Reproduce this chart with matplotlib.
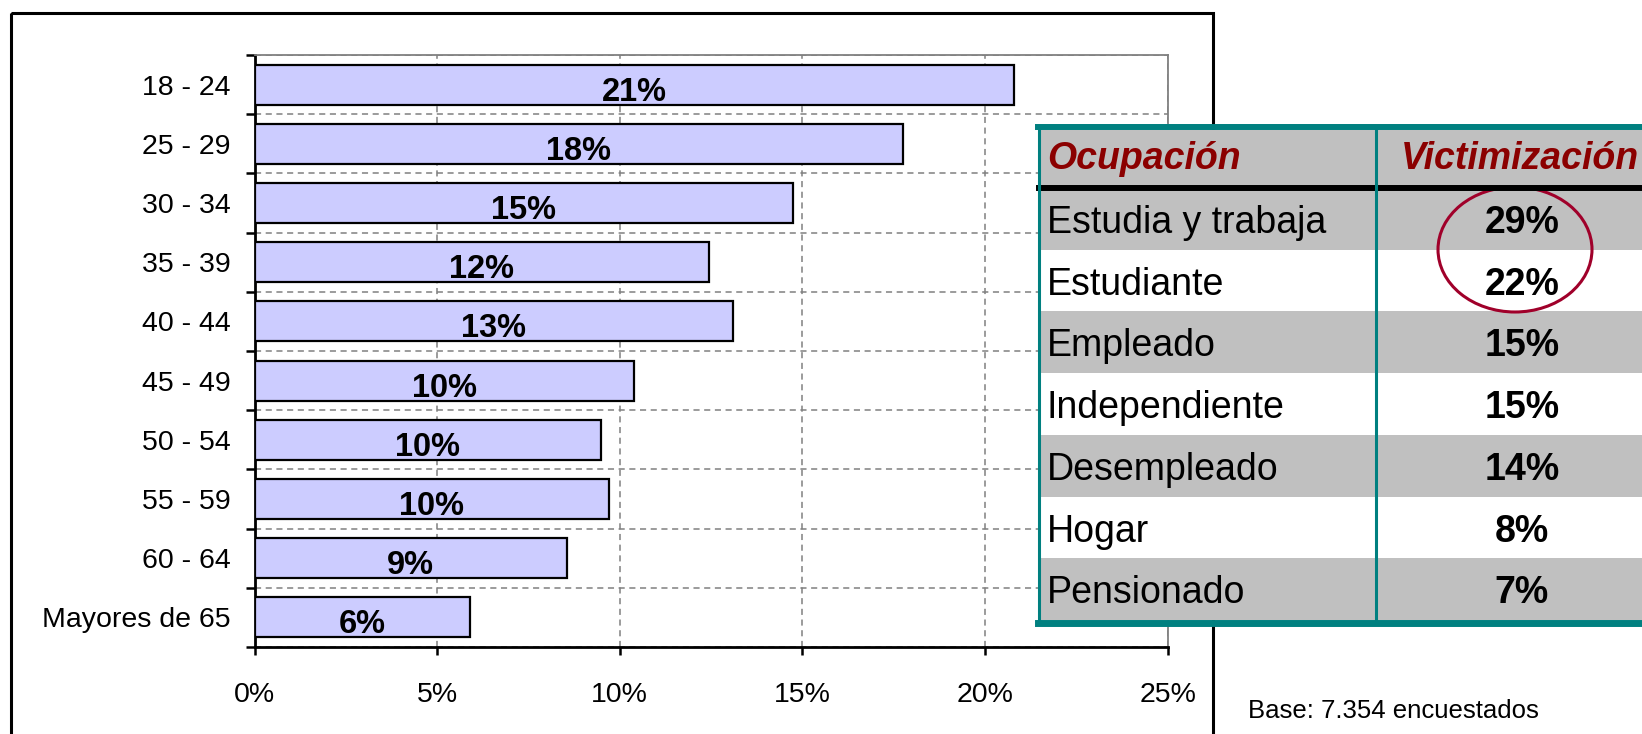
import numpy as np
import matplotlib.pyplot as plt
from matplotlib.patches import Rectangle, Ellipse

# =========================================================
# DATA
# =========================================================
grupos = ["18 - 24", "25 - 29", "30 - 34", "35 - 39", "40 - 44",
          "45 - 49", "50 - 54", "55 - 59", "60 - 64", "Mayores de 65"]
valores = [20.8, 17.75, 14.75, 12.45, 13.1, 10.4, 9.5, 9.7, 8.55, 5.9]
x_ticks = [0, 5, 10, 15, 20, 25]

ocupaciones = ["Estudia y trabaja", "Estudiante", "Empleado", "Independiente",
               "Desempleado", "Hogar", "Pensionado"]
victimizacion = [29, 22, 15, 15, 14, 8, 7]

# =========================================================
# FIGURE
# =========================================================
W, H = 1642, 734
plt.rcParams['font.family'] = ['Liberation Sans', 'DejaVu Sans']

fig = plt.figure(figsize=(W / 100, H / 100), dpi=100)
ax = fig.add_axes([254.5 / W, 1 - 647 / H, (1167.6 - 254.5) / W, (647 - 55) / H])

y = np.arange(len(grupos))
ax.barh(y, valores, height=0.675, color="#CCCCFF", edgecolor="black",
        linewidth=1.6, zorder=3)
for yi, v in zip(y, valores):
    ax.text(v / 2, yi + 0.27, f"{v:.0f}%", ha="center", va="baseline",
            fontsize=23.5, fontweight="bold", zorder=4)

ax.set_xlim(0, 25)
ax.set_ylim(len(grupos) - 0.5, -0.5)
ax.set_xticks(x_ticks)
ax.set_xticklabels([f"{t}%" for t in x_ticks])
ax.set_yticks(y)
ax.set_yticklabels(grupos)
ax.set_yticks(np.arange(len(grupos) + 1) - 0.5, minor=True)
ax.tick_params(axis="y", which="major", length=0, pad=17, labelsize=20.5)
ax.tick_params(axis="y", which="minor", length=6.5, width=1.8, direction="out")
ax.tick_params(axis="x", length=6, width=1.8, pad=19, labelsize=20.5)

ax.set_axisbelow(True)
ax.grid(axis="x", which="major", linestyle=(0, (4, 3)), color="#808080", linewidth=1.1)
ax.grid(axis="y", which="minor", linestyle=(0, (4, 3)), color="#808080", linewidth=1.1)

for s in ["left", "bottom"]:
    ax.spines[s].set_color("black")
    ax.spines[s].set_linewidth(2)
for s in ["top", "right"]:
    ax.spines[s].set_color("#808080")
    ax.spines[s].set_linewidth(1.3)

# =========================================================
# OVERLAY (frame + table), pixel coordinates
# =========================================================
ov = fig.add_axes([0, 0, 1, 1])
ov.set_xlim(0, W)
ov.set_ylim(H, 0)
ov.axis("off")

ov.add_patch(Rectangle((10.5, 12.5), 1202, 800, fill=False,
                       edgecolor="black", linewidth=2.2))

tab_l, tab_r, div_x = 1038.5, 1720, 1376
head_top, head_bot, row_h = 130, 188, 61.7
gris = "#C0C0C0"
teal = "#008080"
rojo = "#8B0000"

ov.add_patch(Rectangle((tab_l, head_top), tab_r - tab_l, head_bot - head_top,
                       facecolor=gris, edgecolor="none"))
for i, (occ, val) in enumerate(zip(ocupaciones, victimizacion)):
    top = head_bot + i * row_h
    ov.add_patch(Rectangle((tab_l, top), tab_r - tab_l, row_h,
                           facecolor=gris if i % 2 == 0 else "white", edgecolor="none"))
    ov.text(1047, top + 45, occ, ha="left", va="baseline", fontsize=27)
    ov.text(1522, top + 45, f"{val}%", ha="center", va="baseline",
            fontsize=27, fontweight="bold")

tab_bot = head_bot + len(ocupaciones) * row_h
ov.plot([tab_l, tab_r], [head_bot, head_bot], color="black", linewidth=4.3)
ov.plot([tab_l - 1, tab_r], [head_top - 3, head_top - 3], color=teal, linewidth=4.3)
ov.plot([tab_l - 1, tab_r], [tab_bot + 3.5, tab_bot + 3.5], color=teal, linewidth=5)
ov.plot([tab_l, tab_l], [head_top - 3, tab_bot + 3.5], color=teal, linewidth=2.2)
ov.plot([div_x, div_x], [head_top - 3, tab_bot + 3.5], color=teal, linewidth=2.2)

ov.text(1047, 169, "Ocupación", ha="left", va="baseline", fontsize=27,
        fontweight="bold", fontstyle="italic", color=rojo)
ov.text(1401, 169, "Victimización", ha="left", va="baseline", fontsize=27,
        fontweight="bold", fontstyle="italic", color=rojo)

ov.add_patch(Ellipse((1515, 249.5), 154, 125, fill=False,
                     edgecolor="#A0002A", linewidth=2.2))

ov.text(1248, 718, "Base: 7.354 encuestados", ha="left", va="baseline", fontsize=18.5)

fig.savefig("out.png", dpi=100)
